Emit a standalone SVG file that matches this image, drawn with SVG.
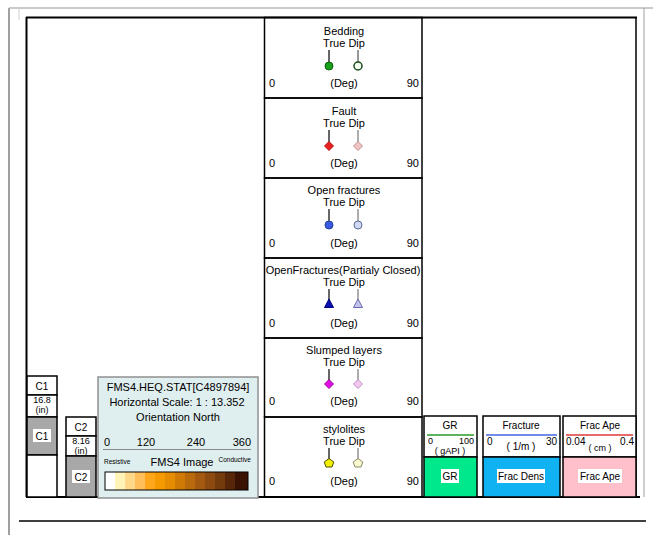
<svg xmlns="http://www.w3.org/2000/svg" width="653" height="535" viewBox="0 0 653 535">
<style>
text{font-family:"Liberation Sans",Arial,sans-serif;fill:#000}
.t{font-size:11px;text-anchor:middle}
.s{font-size:11px}
.m{text-anchor:middle}
.e{text-anchor:end}
.bx{fill:none;stroke:#000;stroke-width:1.5}
.wb{fill:#fff;stroke:#000;stroke-width:1.5}
.stk{stroke-width:1.2}
</style>
<defs>
<circle id="circ" r="4"/>
<polygon id="dia" points="0,-4.5 4.5,0 0,4.5 -4.5,0"/>
<polygon id="tri" points="0,-5 4.5,3.5 -4.5,3.5"/>
<polygon id="pent" points="0,-4.5 4.8,-1 3,4 -3,4 -4.8,-1"/>
</defs>
<rect width="653" height="535" fill="#fff"/>
<g id="frame">
<line x1="9" y1="8" x2="9" y2="535" stroke="#a0a0a0" stroke-width="2"/>
<line x1="9" y1="8" x2="653" y2="8" stroke="#b8b8b8" stroke-width="1.5"/>
<line x1="19" y1="8" x2="19" y2="20" stroke="#d0d0d0" stroke-width="1"/>
<line x1="26" y1="17.5" x2="637" y2="17.5" stroke="#000" stroke-width="2"/>
<line x1="26.5" y1="17" x2="26.5" y2="497" stroke="#000" stroke-width="2"/>
<line x1="636" y1="17" x2="636" y2="497" stroke="#000" stroke-width="1.5"/>
<line x1="644" y1="8" x2="644" y2="497" stroke="#a0a0a0" stroke-width="1"/>
<line x1="26" y1="497" x2="640" y2="497" stroke="#000" stroke-width="2"/>
<line x1="19" y1="521" x2="646" y2="521" stroke="#000" stroke-width="1.5"/>
</g>
<g id="c1">
<rect x="27" y="376" width="30" height="19" class="wb"/>
<text x="42" y="390" class="m" font-size="10">C1</text>
<rect x="27" y="395" width="30" height="22" class="wb"/>
<text x="42" y="403" class="m" font-size="9">16.8</text>
<text x="42" y="413" class="m" font-size="9">(in)</text>
<rect x="27" y="417" width="30" height="38" fill="#a8a8a8" stroke="#000" stroke-width="1.5"/>
<rect x="33" y="429" width="18" height="13" fill="#fff"/>
<text x="42" y="440" class="m" font-size="10">C1</text>
<rect x="27" y="455" width="30" height="42" class="wb"/>
</g>
<g id="c2">
<rect x="66" y="417" width="30" height="19" class="wb"/>
<text x="81" y="431" class="m" font-size="10">C2</text>
<rect x="66" y="436" width="30" height="20" class="wb"/>
<text x="81" y="444" class="m" font-size="9">8.16</text>
<text x="81" y="454" class="m" font-size="9">(in)</text>
<rect x="66" y="456" width="30" height="41" fill="#a8a8a8" stroke="#000" stroke-width="1.5"/>
<rect x="72" y="470" width="18" height="13" fill="#fff"/>
<text x="81" y="481" class="m" font-size="10">C2</text>
</g>
<g id="fms">
<rect x="98" y="377" width="160" height="121" fill="#dfeeee" stroke="#909090" stroke-width="1.5"/>
<text x="178" y="391" class="t">FMS4.HEQ.STAT[C4897894]</text>
<text x="177" y="406" class="t">Horizontal Scale: 1 : 13.352</text>
<text x="178" y="421" class="t">Orientation North</text>
<text x="104" y="446" class="s">0</text>
<text x="146" y="446" class="t">120</text>
<text x="196" y="446" class="t">240</text>
<text x="251" y="446" class="s e">360</text>
<line x1="103" y1="449.5" x2="251" y2="449.5" stroke="#888" stroke-width="1"/>
<text x="104" y="464" font-size="6.5">Resistive</text>
<text x="182" y="466" class="t">FMS4 Image</text>
<text x="251" y="462" font-size="6.5" text-anchor="end">Conductive</text>
<g stroke="none">
<rect x="105" y="472" width="11" height="18" fill="#ffffff"/>
<rect x="115" y="472" width="11" height="18" fill="#fff3b8"/>
<rect x="125" y="472" width="11" height="18" fill="#ffd889"/>
<rect x="135" y="472" width="11" height="18" fill="#ffbe5a"/>
<rect x="145" y="472" width="11" height="18" fill="#ffa61a"/>
<rect x="155" y="472" width="11" height="18" fill="#f59a00"/>
<rect x="165" y="472" width="11" height="18" fill="#e58c00"/>
<rect x="175" y="472" width="11" height="18" fill="#d07a06"/>
<rect x="185" y="472" width="11" height="18" fill="#b86a0c"/>
<rect x="195" y="472" width="11" height="18" fill="#a35a10"/>
<rect x="205" y="472" width="11" height="18" fill="#8c4a10"/>
<rect x="215" y="472" width="11" height="18" fill="#733a0c"/>
<rect x="225" y="472" width="11" height="18" fill="#582608"/>
<rect x="235" y="472" width="13" height="18" fill="#3a1204"/>
</g>
<rect x="105" y="472" width="143" height="18" fill="none" stroke="#000" stroke-width="1"/>
</g>
<g id="bedding">
<rect x="264.5" y="17.5" width="157.5" height="80.5" class="bx"/>
<text x="344" y="35" class="t">Bedding</text>
<text x="344" y="47" class="t">True Dip</text>
<line x1="329" y1="50" x2="329" y2="63" stroke="#000" class="stk"/>
<line x1="358" y1="50" x2="358" y2="63" stroke="#555" class="stk"/>
<use href="#circ" x="329" y="66" fill="#1aa01a" stroke="#0a600a"/>
<use href="#circ" x="358" y="66" fill="#f4fff4" stroke="#1a4a1a" stroke-width="1.5"/>
<text x="269" y="87" class="s">0</text>
<text x="344" y="87" class="t">(Deg)</text>
<text x="419" y="87" class="s e">90</text>
</g>
<g id="fault">
<rect x="264.5" y="98" width="157.5" height="80" class="bx"/>
<text x="344" y="115" class="t">Fault</text>
<text x="344" y="127" class="t">True Dip</text>
<line x1="329" y1="130" x2="329" y2="142" stroke="#000" class="stk"/>
<line x1="358" y1="130" x2="358" y2="142" stroke="#777" class="stk"/>
<use href="#dia" x="329" y="146" fill="#e82020" stroke="#b01010"/>
<use href="#dia" x="358" y="146" fill="#f2c4c4" stroke="#c09090"/>
<text x="269" y="167" class="s">0</text>
<text x="344" y="167" class="t">(Deg)</text>
<text x="419" y="167" class="s e">90</text>
</g>
<g id="open-fractures">
<rect x="264.5" y="178" width="157.5" height="80" class="bx"/>
<text x="344" y="194" class="t">Open fractures</text>
<text x="344" y="206" class="t">True Dip</text>
<line x1="329" y1="209" x2="329" y2="222" stroke="#000" class="stk"/>
<line x1="358" y1="209" x2="358" y2="222" stroke="#777" class="stk"/>
<use href="#circ" x="329" y="225" fill="#3a5ae0" stroke="#2040a0"/>
<use href="#circ" x="358" y="225" fill="#d0d8f2" stroke="#5a6a9a"/>
<text x="269" y="247" class="s">0</text>
<text x="344" y="247" class="t">(Deg)</text>
<text x="419" y="247" class="s e">90</text>
</g>
<g id="partially-closed">
<rect x="264.5" y="258" width="157.5" height="80" class="bx"/>
<text x="343" y="274" class="t">OpenFractures(Partialy Closed)</text>
<text x="344" y="286" class="t">True Dip</text>
<line x1="329" y1="289" x2="329" y2="302" stroke="#000" class="stk"/>
<line x1="358" y1="289" x2="358" y2="302" stroke="#777" class="stk"/>
<use href="#tri" x="329" y="304" fill="#0a10b0" stroke="#000080"/>
<use href="#tri" x="358" y="304" fill="#c4c4ea" stroke="#6a6ab0"/>
<text x="269" y="327" class="s">0</text>
<text x="344" y="327" class="t">(Deg)</text>
<text x="419" y="327" class="s e">90</text>
</g>
<g id="slumped">
<rect x="264.5" y="338" width="157.5" height="79" class="bx"/>
<text x="344" y="354" class="t">Slumped layers</text>
<text x="344" y="366" class="t">True Dip</text>
<line x1="329" y1="369" x2="329" y2="381" stroke="#000" class="stk"/>
<line x1="358" y1="369" x2="358" y2="381" stroke="#777" class="stk"/>
<use href="#dia" x="329" y="384" fill="#e010e0" stroke="#a000a0"/>
<use href="#dia" x="358" y="384" fill="#f0c8f0" stroke="#c090c0"/>
<text x="269" y="405" class="s">0</text>
<text x="344" y="405" class="t">(Deg)</text>
<text x="419" y="405" class="s e">90</text>
</g>
<g id="stylolites">
<rect x="264.5" y="417" width="157.5" height="80" class="bx"/>
<text x="344" y="433" class="t">stylolites</text>
<text x="344" y="445" class="t">True Dip</text>
<line x1="329" y1="448" x2="329" y2="460" stroke="#000" class="stk"/>
<line x1="358" y1="448" x2="358" y2="460" stroke="#777" class="stk"/>
<use href="#pent" x="329" y="463" fill="#f0f000" stroke="#505000"/>
<use href="#pent" x="358" y="463" fill="#fafad0" stroke="#8a8a60"/>
<text x="269" y="485" class="s">0</text>
<text x="344" y="485" class="t">(Deg)</text>
<text x="419" y="485" class="s e">90</text>
</g>
<g id="gr">
<rect x="424" y="416" width="53" height="41" class="wb"/>
<text x="450" y="429" class="m" font-size="10">GR</text>
<line x1="427" y1="435" x2="474" y2="435" stroke="#2a9a2a" stroke-width="1.5"/>
<text x="428" y="444" font-size="9">0</text>
<text x="474" y="444" font-size="9" text-anchor="end">100</text>
<text x="450" y="454" class="m" font-size="9">( gAPI )</text>
<rect x="424" y="457" width="53" height="40" fill="#00e88c" stroke="#000" stroke-width="1.5"/>
<rect x="441" y="469" width="18" height="14" fill="#fff"/>
<text x="450" y="480" class="m" font-size="10">GR</text>
</g>
<g id="fracture">
<rect x="483" y="416" width="77" height="41" class="wb"/>
<text x="521" y="429" class="m" font-size="10">Fracture</text>
<line x1="486" y1="435" x2="557" y2="435" stroke="#4466e0" stroke-width="1.5"/>
<text x="487" y="445" font-size="10">0</text>
<text x="557" y="445" font-size="10" text-anchor="end">30</text>
<text x="521" y="450" class="m" font-size="10">( 1/m )</text>
<rect x="483" y="457" width="77" height="40" fill="#10b2f2" stroke="#000" stroke-width="1.5"/>
<rect x="497" y="469" width="48" height="14" fill="#fff"/>
<text x="521" y="480" class="m" font-size="10">Frac Dens</text>
</g>
<g id="frac-ape">
<rect x="563" y="416" width="73" height="41" class="wb"/>
<text x="600" y="429" class="m" font-size="10">Frac Ape</text>
<line x1="566" y1="435" x2="633" y2="435" stroke="#e03a3a" stroke-width="1.5"/>
<text x="566" y="445" font-size="10">0.04</text>
<text x="634" y="445" font-size="10" text-anchor="end">0.4</text>
<text x="600" y="451" class="m" font-size="9">( cm )</text>
<rect x="563" y="457" width="73" height="40" fill="#ffc0cb" stroke="#000" stroke-width="1.5"/>
<rect x="578" y="469" width="44" height="14" fill="#fff"/>
<text x="600" y="480" class="m" font-size="10">Frac Ape</text>
</g>
<g id="connectors"></g>
</svg>
